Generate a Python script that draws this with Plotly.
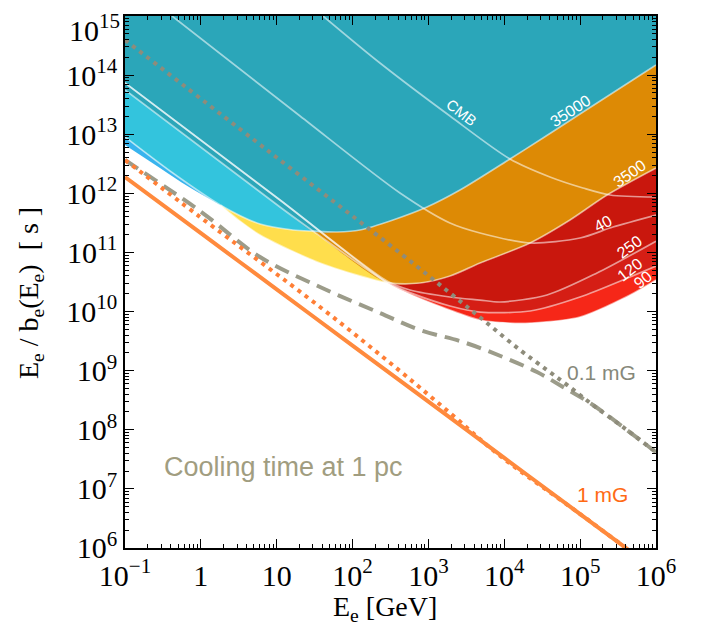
import numpy as np
import plotly.graph_objects as go

# ---- data: log10(E_e / GeV) and log10(t / s) ----
cmb_x = [1.61, 2.361, 3.284, 4.075, 4.602, 5.037, 5.393, 6.0]
cmb_y = [15.0, 14.205, 13.308, 12.581, 12.277, 12.091, 11.972, 11.938]

k40_x = [-0.38, 1.307, 2.625, 3.284, 3.680, 4.339, 4.998, 5.433, 6.0]
k40_y = [15.0, 13.308, 12.006, 11.498, 11.329, 11.160, 11.244, 11.430, 11.633]

k250_x = [-1.0, 1.043, 2.454, 2.757, 3.284, 3.680, 3.943, 4.563, 5.222, 6.0]
k250_y = [13.867, 11.887, 10.517, 10.365, 10.246, 10.195, 10.162, 10.280, 10.652, 11.19]

k120_x = [-1.0, 1.043, 1.48, 2.454, 2.757, 3.284, 3.680, 4.339, 4.998, 5.657, 6.0]
k120_y = [13.748, 11.769, 11.36, 10.49, 10.32, 10.094, 9.992, 10.009, 10.246, 10.585, 10.77]

k90_x = [-1.0, 1.043, 2.454, 2.757, 3.284, 3.680, 4.075, 4.339, 4.998, 5.657, 6.0]
k90_y = [13.867, 11.887, 10.49, 10.297, 10.026, 9.857, 9.806, 9.806, 9.908, 10.280, 10.534]

k35000_x = [-1.0, -0.407, 0.26, 0.780, 1.215, 1.48, 1.795, 2.098, 2.533, 2.981, 3.416,
            4.075, 4.510, 4.998, 6.0]
k35000_y = [12.953, 12.378, 11.80, 11.481, 11.380, 11.36, 11.346, 11.380, 11.549, 11.769,
            12.056, 12.581, 12.936, 13.342, 14.171]

k3500_x = [0.26, 0.516, 0.780, 1.175, 1.571, 1.966, 2.454, 2.889, 3.284, 3.680, 4.339,
           4.866, 5.354, 6.0]
k3500_y = [11.80, 11.53, 11.295, 11.041, 10.821, 10.652, 10.49, 10.483, 10.601, 10.821,
           11.160, 11.549, 11.972, 12.429]

edge_x = [-1.0, -0.539, -0.156, 0.26]
edge_y = [12.818, 12.429, 12.107, 11.80]

g_dash_x = [-1.0, -0.011, 0.780, 1.571, 2.361, 2.889, 3.456, 3.983, 4.431, 4.774, 5.169, 5.617, 6.0]
g_dash_y = [12.564, 11.701, 10.923, 10.415, 9.975, 9.688, 9.485, 9.231, 8.977, 8.724, 8.419, 7.996, 7.62]

g_dot_x = [-1.0, 0.872, 2.625, 3.284, 3.772, 4.207, 4.563, 4.826, 5.169, 5.617, 6.0]
g_dot_y = [14.594, 12.733, 10.991, 10.314, 9.806, 9.350, 9.011, 8.76, 8.419, 7.996, 7.62]

o_sol_x = [-1.0, 0.0, 1.0, 2.0, 3.0, 4.0, 5.0, 5.7]
o_sol_y = [12.276, 11.326, 10.375, 9.425, 8.475, 7.524, 6.574, 5.909]

o_dot_x = [-1.0, -0.011, 1.571, 2.625, 3.324, 3.943, 5.0, 5.7]
o_dot_y = [12.564, 11.600, 10.077, 8.994, 8.240, 7.560, 6.574, 5.909]

x_ticks = [-1, 0, 1, 2, 3, 4, 5, 6]
x_ticktext = ['10<sup>\u22121</sup>', '1', '10', '10<sup>2</sup>', '10<sup>3</sup>',
              '10<sup>4</sup>', '10<sup>5</sup>', '10<sup>6</sup>']
y_ticks = [6, 7, 8, 9, 10, 11, 12, 13, 14, 15]
y_ticktext = ['10<sup>%d</sup>' % v for v in y_ticks]


def V(a):
    return [10.0 ** v for v in a]


fig = go.Figure()
TOP = 15.5


def fill_above(xs, ys, color):
    fig.add_trace(go.Scatter(x=V([xs[0], xs[-1]]), y=V([TOP, TOP]), mode='lines',
                             line=dict(width=0), hoverinfo='skip', showlegend=False))
    fig.add_trace(go.Scatter(x=V(xs), y=V(ys), mode='lines',
                             line=dict(width=0, shape='spline', smoothing=0.8),
                             fill='tonexty', fillcolor=color, hoverinfo='skip',
                             showlegend=False))


def join(ax, ay, bx, by, xj):
    xs = [v for v in ax if v <= xj] + [v for v in bx if v > xj]
    ys = [ay[i] for i, v in enumerate(ax) if v <= xj] + [by[i] for i, v in enumerate(bx) if v > xj]
    return xs, ys


# red dust bands
fill_above(k90_x, k90_y, '#F62718')
fill_above(k120_x, k120_y, '#D51E15')
fill_above(k250_x, k250_y, '#C9170D')
# 3500 K band
fill_above(k3500_x, k3500_y, '#FFDE4C')
ox, oy = join(k120_x, k120_y, k3500_x, k3500_y, 2.454)
fill_above(ox, oy, '#DD8A05')
# sliver at the low-energy edge
n_l = 3
fig.add_trace(go.Scatter(x=V(k35000_x[:n_l]), y=V(k35000_y[:n_l]), mode='lines',
                         line=dict(width=0, shape='spline'), hoverinfo='skip', showlegend=False))
fig.add_trace(go.Scatter(x=V(edge_x), y=V(edge_y), mode='lines',
                         line=dict(width=0, shape='spline'), fill='tonexty',
                         fillcolor='#38B4EE', hoverinfo='skip', showlegend=False))
# 35000 K band
fill_above(k35000_x, k35000_y, '#33C4DD')
tx, ty = join(k120_x, k120_y, k35000_x, k35000_y, 1.48)
fill_above(tx, ty, '#2BA6B9')

# white curves
wl = dict(color='rgba(255,255,255,0.55)', width=1.7, shape='spline', smoothing=0.8)
for xs, ys in [(cmb_x, cmb_y), (k40_x, k40_y), (k250_x, k250_y), (k120_x, k120_y),
               (k90_x, k90_y), (k35000_x, k35000_y), (k3500_x, k3500_y)]:
    fig.add_trace(go.Scatter(x=V(xs), y=V(ys), mode='lines', line=wl,
                             hoverinfo='skip', showlegend=False))

# cooling curves
fig.add_trace(go.Scatter(x=V(g_dash_x), y=V(g_dash_y), mode='lines',
                         line=dict(color='#9C9C8A', width=4, dash='15px,8px', shape='spline'),
                         showlegend=False))
fig.add_trace(go.Scatter(x=V(g_dot_x), y=V(g_dot_y), mode='lines',
                         line=dict(color='#8E8C7B', width=4, dash='4px,5px', shape='spline'),
                         showlegend=False))
fig.add_trace(go.Scatter(x=V(o_dot_x), y=V(o_dot_y), mode='lines',
                         line=dict(color='#FF7F36', width=4, dash='4px,5px', shape='spline'),
                         showlegend=False))
fig.add_trace(go.Scatter(x=V(o_sol_x), y=V(o_sol_y), mode='lines',
                         line=dict(color='#FF8A3D', width=4, shape='spline'),
                         showlegend=False))

serif = 'Liberation Serif, Times New Roman'
ann = []
for txt, x, y, ang, sz in [('CMB', 3.44, 13.37, 38, 15), ('35000', 4.879, 13.40, -33, 16),
                           ('3500', 5.657, 12.33, -35, 16), ('40', 5.301, 11.49, -28, 16),
                           ('250', 5.657, 11.10, -36, 16), ('120', 5.657, 10.72, -38, 16),
                           ('90', 5.83, 10.54, -40, 16)]:
    ann.append(dict(x=x, y=y, xref='x', yref='y', text=txt, showarrow=False, textangle=ang,
                    font=dict(family='Liberation Sans, Arial', size=sz, color='white')))
ann.append(dict(x=1.096, y=7.37, xref='x', yref='y', text='Cooling time at 1 pc', showarrow=False,
                font=dict(family='Liberation Sans, Arial', size=27, color='#A19D80')))
ann.append(dict(x=5.288, y=8.977, xref='x', yref='y', text='0.1 mG', showarrow=False,
                font=dict(family='Liberation Sans, Arial', size=21, color='#86887A')))
ann.append(dict(x=5.301, y=6.913, xref='x', yref='y', text='1 mG', showarrow=False,
                font=dict(family='Liberation Sans, Arial', size=21, color='#FF6A14')))
# top y tick label, kept inside the page
ann.append(dict(x=0, y=1, xref='paper', yref='paper', text=y_ticktext[-1], showarrow=False,
                xanchor='right', yanchor='top', xshift=-4, yshift=8, borderpad=0,
                font=dict(family=serif, size=30, color='black')))
# axis titles
ann.append(dict(x=0.49, y=-0.113, xref='paper', yref='paper', text='E<sub>e</sub> [GeV]',
                showarrow=False, xanchor='center', yanchor='middle',
                font=dict(family=serif, size=28, color='black')))
ann.append(dict(x=-0.178, y=0.48, xref='paper', yref='paper',
                text='E<sub>e</sub> / b<sub>e</sub>(E<sub>e</sub>)  [ s ]', textangle=-90,
                showarrow=False, xanchor='center', yanchor='middle',
                font=dict(family=serif, size=28, color='black')))

axis_common = dict(type='log', showgrid=False, zeroline=False, showline=True,
                   linecolor='black', linewidth=1.5, mirror='allticks', ticks='inside',
                   ticklen=9, tickwidth=1.2, tickcolor='black', automargin=False,
                   tickfont=dict(family=serif, size=30, color='black'),
                   minor=dict(ticks='inside', ticklen=4, tickwidth=1, tickcolor='black',
                              dtick='D1', showgrid=False))

y_labels_axis = y_ticktext[:-1] + ['']

# page body has an 8 px margin, so the figure is 8 px smaller on each side
fig.update_layout(
    width=697, height=618,
    margin=dict(l=117, r=49, t=8, b=78),
    paper_bgcolor='white', plot_bgcolor='white',
    showlegend=False,
    annotations=ann,
    xaxis=dict(axis_common, range=[-1, 6.0001], tickvals=V(x_ticks), ticktext=x_ticktext),
    yaxis=dict(axis_common, range=[5.9999, 15.0001], tickvals=V(y_ticks), ticktext=y_labels_axis),
)

fig.write_html('out.html')
